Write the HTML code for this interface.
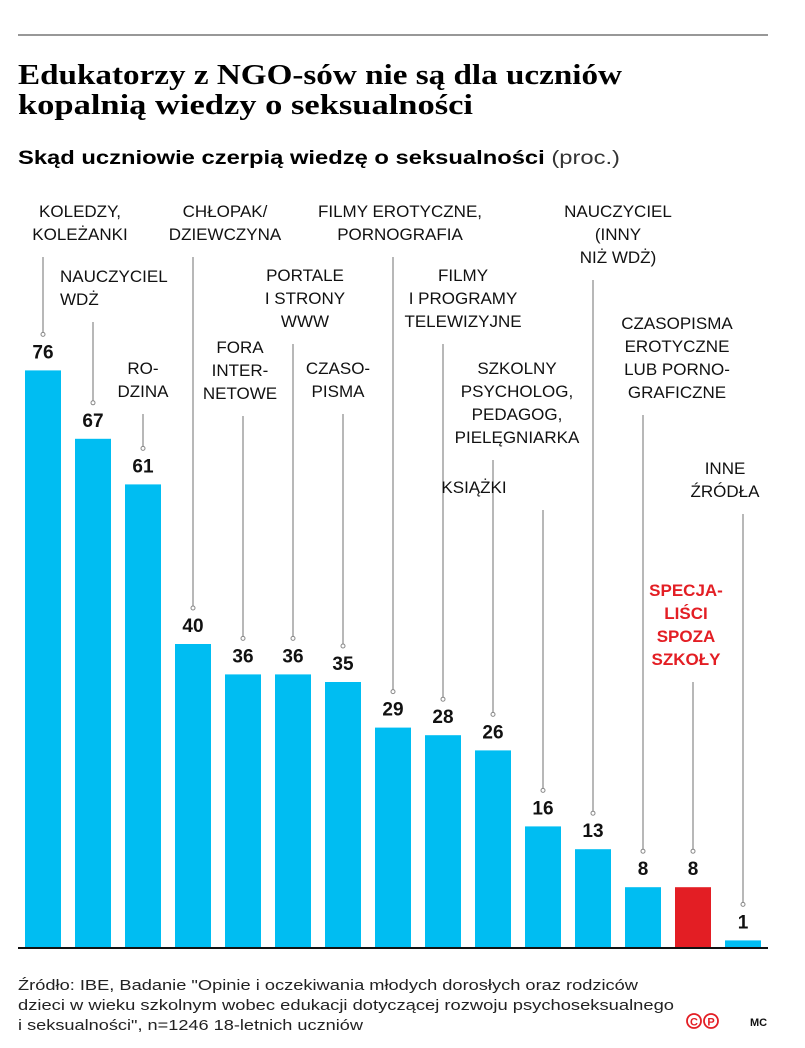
<!DOCTYPE html>
<html><head><meta charset="utf-8"><style>
html,body{margin:0;padding:0;background:#fff;}
svg{display:block;font-family:"Liberation Sans",sans-serif;}
.lbl{font-size:17px;}
.val{font-size:19px;font-weight:bold;fill:#111;text-anchor:middle;}
</style></head><body>
<svg id="chart" width="805" height="1048">
<line x1="18" y1="35" x2="768" y2="35" stroke="#777" stroke-width="1.5"/>
<text x="18" y="84" font-family="Liberation Serif,serif" font-weight="bold" font-size="28" textLength="604" lengthAdjust="spacingAndGlyphs">Edukatorzy z NGO-sów nie są dla uczniów</text>
<text x="18" y="114" font-family="Liberation Serif,serif" font-weight="bold" font-size="28" textLength="455" lengthAdjust="spacingAndGlyphs">kopalnią wiedzy o seksualności</text>
<text x="18" y="164" font-size="19" textLength="602" lengthAdjust="spacingAndGlyphs"><tspan font-weight="bold">Skąd uczniowie czerpią wiedzę o seksualności</tspan> <tspan fill="#333">(proc.)</tspan></text>
<g id="bars"></g>
<line x1="18" y1="948" x2="768" y2="948" stroke="#111" stroke-width="2"/>
<text x="18" y="990" font-size="14.5" fill="#222" textLength="620" lengthAdjust="spacingAndGlyphs">Źródło: IBE, Badanie "Opinie i oczekiwania młodych dorosłych oraz rodziców</text>
<text x="18" y="1010" font-size="14.5" fill="#222" textLength="656" lengthAdjust="spacingAndGlyphs">dzieci w wieku szkolnym wobec edukacji dotyczącej rozwoju psychoseksualnego</text>
<text x="18" y="1030" font-size="14.5" fill="#222" textLength="345" lengthAdjust="spacingAndGlyphs">i seksualności", n=1246 18-letnich uczniów</text>
<g>
<circle cx="694" cy="1021" r="7" fill="none" stroke="#e31e24" stroke-width="1.8"/><text x="694" y="1025.5" font-size="11" font-weight="bold" fill="#e31e24" text-anchor="middle">C</text>
<circle cx="711" cy="1021" r="7" fill="none" stroke="#e31e24" stroke-width="1.8"/><text x="711" y="1025.5" font-size="11" font-weight="bold" fill="#e31e24" text-anchor="middle">P</text>
</g>
<text x="750" y="1026" font-size="11" font-weight="bold" fill="#111">MC</text>
</svg>
<script>
const categories = ["KOLEDZY, KOLEŻANKI","NAUCZYCIEL WDŻ","RODZINA","CHŁOPAK/DZIEWCZYNA","FORA INTERNETOWE","PORTALE I STRONY WWW","CZASOPISMA","FILMY EROTYCZNE, PORNOGRAFIA","FILMY I PROGRAMY TELEWIZYJNE","SZKOLNY PSYCHOLOG, PEDAGOG, PIELĘGNIARKA","KSIĄŻKI","NAUCZYCIEL (INNY NIŻ WDŻ)","CZASOPISMA EROTYCZNE LUB PORNOGRAFICZNE","SPECJALIŚCI SPOZA SZKOŁY","INNE ŹRÓDŁA"];
const values = [76,67,61,40,36,36,35,29,28,26,16,13,8,8,1];
const labelLines = [["KOLEDZY,","KOLEŻANKI"],["NAUCZYCIEL","WDŻ"],["RO-","DZINA"],["CHŁOPAK/","DZIEWCZYNA"],["FORA","INTER-","NETOWE"],["PORTALE","I STRONY","WWW"],["CZASO-","PISMA"],["FILMY EROTYCZNE,","PORNOGRAFIA"],["FILMY","I PROGRAMY","TELEWIZYJNE"],["SZKOLNY","PSYCHOLOG,","PEDAGOG,","PIELĘGNIARKA"],["KSIĄŻKI"],["NAUCZYCIEL","(INNY","NIŻ WDŻ)"],["CZASOPISMA","EROTYCZNE","LUB PORNO-","GRAFICZNE"],["SPECJA-","LIŚCI","SPOZA","SZKOŁY"],["INNE","ŹRÓDŁA"]];
const highlight = [false,false,false,false,false,false,false,false,false,false,false,false,false,true,false];
// layout (not data)
const lblX = [80,60,143,225,240,305,338,400,463,517,474,618,677,686,725];
const lblAnchor = ["middle","start","middle","middle","middle","middle","middle","middle","middle","middle","middle","middle","middle","middle","middle"];
const lblY = [217,282,374,217,353,281,374,217,281,374,493,217,329,596,474];
const NS="http://www.w3.org/2000/svg";
const g=document.getElementById('bars');
const baseY=948, scale=7.6, x0=43, step=50, bw=36;
const xOf=i=>x0+i*step, yOf=v=>baseY-v*scale;
function mk(t,a){const e=document.createElementNS(NS,t);for(const k in a)e.setAttribute(k,a[k]);g.appendChild(e);return e;}
values.forEach((v,i)=>{
  const cx=xOf(i), top=yOf(v), col=highlight[i]?'#e31e24':'#00bdf2';
  const r=mk('rect',{x:cx-bw/2,y:top,width:bw,height:baseY-top,fill:col});
  
  
  const t=mk('text',{x:cx,y:top-12,class:'val'});t.textContent=v;
  
  
  const lines=labelLines[i];
  const tl=mk('text',{class:'lbl','text-anchor':lblAnchor[i],fill:highlight[i]?'#e31e24':'#111'});
  if(highlight[i]){tl.setAttribute('font-weight','bold');}
  
  
  lines.forEach((s,j)=>{const sp=document.createElementNS(NS,'tspan');sp.setAttribute('x',lblX[i]);sp.setAttribute('y',lblY[i]+j*23);sp.textContent=s;tl.appendChild(sp);});
  const ly1=lblY[i]+(lines.length-1)*23+17, ly2=top-38;
  const ln=mk('line',{x1:cx,y1:ly1,x2:cx,y2:ly2,stroke:'#888','stroke-width':1.2});
  
  
  const c=mk('circle',{cx:cx,cy:ly2+2,r:2,fill:'#fff',stroke:'#888','stroke-width':1});
  
  
});
</script>
</body></html>
